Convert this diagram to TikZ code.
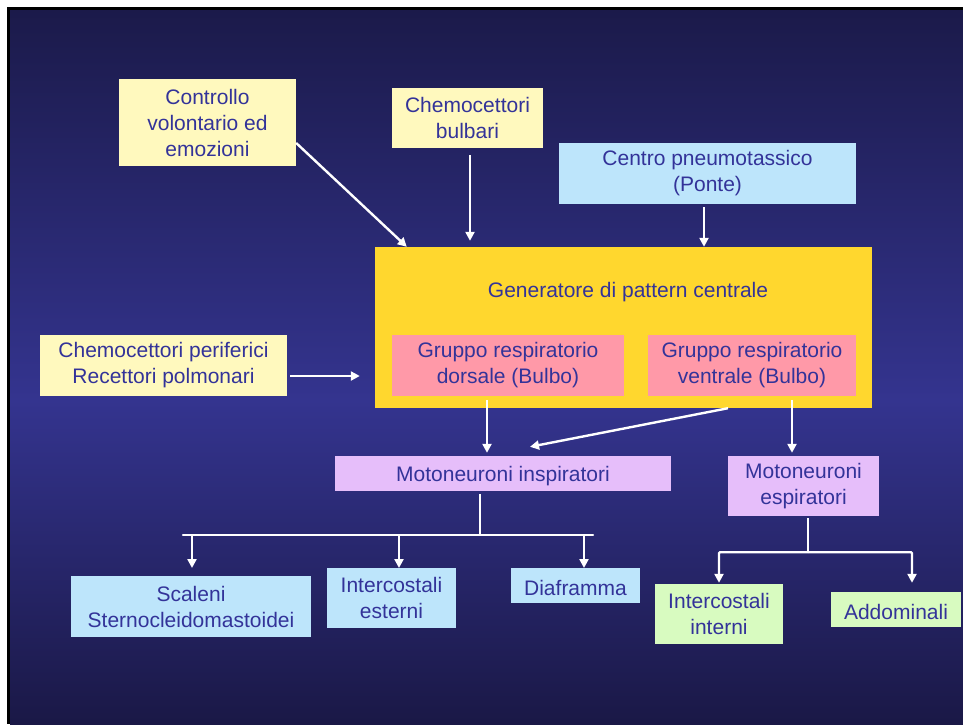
\documentclass[tikz,border=0pt]{standalone}
\usepackage{fontspec}
\setmainfont{Liberation Sans}
\usetikzlibrary{arrows.meta,calc}
\definecolor{txt}{HTML}{333399}
\definecolor{bgtop}{HTML}{1B1A4A}
\definecolor{bgmid}{HTML}{34348F}
\definecolor{bgbot}{HTML}{1A1846}
\definecolor{cyel}{HTML}{FFF9BE}
\definecolor{cblue}{HTML}{BDE5FB}
\definecolor{cgen}{HTML}{FFD72E}
\definecolor{cpink}{HTML}{FF99A8}
\definecolor{clav}{HTML}{E6BEFA}
\definecolor{cgreen}{HTML}{D8FBC0}
\tikzset{
  box/.style={draw=none, inner sep=0pt, align=center, text=txt,
    font=\fontsize{21}{26}\selectfont,
    execute at begin node={\rule{0pt}{19.5pt}}},
  arr/.style={draw=white, line width=2.4pt, -{Triangle[length=9pt,width=9pt]}},
  ln/.style={draw=white, line width=2.4pt}
}
\begin{document}
\begin{tikzpicture}[x=1pt,y=-1pt]
\useasboundingbox (0,0) rectangle (963,724);
\fill[white] (0,0) rectangle (963,724);
\fill[black] (7,7) rectangle (963,724);
\shade[top color=bgtop, bottom color=bgmid] (10,10) rectangle (963,400.5);
\shade[top color=bgmid, bottom color=bgbot] (10,400) rectangle (963,724);

% boxes
\node[box, fill=cyel, minimum width=177pt, minimum height=87pt] (ctrl) at (207.5,122.5) {Controllo\\volontario ed\\emozioni};
\node[box, fill=cyel, minimum width=151pt, minimum height=60pt] (bulb) at (467.5,118) {Chemocettori\\bulbari};
\node[box, fill=cblue, minimum width=297pt, minimum height=61pt] (ponte) at (707.5,173.5) {Centro pneumotassico\\(Ponte)};
\node[box, fill=cgen, minimum width=497pt, minimum height=161pt] (gen) at (623.5,327.5) {};
\node[box, anchor=center] (gent) at (628,290) {Generatore di pattern centrale};
\node[box, fill=cpink, minimum width=232pt, minimum height=61pt] (dors) at (508,365.5) {Gruppo respiratorio\\dorsale (Bulbo)};
\node[box, fill=cpink, minimum width=208pt, minimum height=61pt] (vent) at (752,365.5) {Gruppo respiratorio\\ventrale (Bulbo)};
\node[box, fill=cyel, minimum width=247pt, minimum height=61pt] (peri) at (163.5,365.5) {Chemocettori periferici\\Recettori polmonari};
\node[box, fill=clav, minimum width=336pt, minimum height=35pt] (minsp) at (503,473.5) {Motoneuroni inspiratori};
\node[box, fill=clav, minimum width=151pt, minimum height=60pt] (mesp) at (803.5,486) {Motoneuroni\\espiratori};
\node[box, fill=cblue, minimum width=240pt, minimum height=61pt] (scal) at (191,606.5) {Scaleni\\Sternocleidomastoidei};
\node[box, fill=cblue, minimum width=129pt, minimum height=60pt] (iest) at (391.5,598) {Intercostali\\esterni};
\node[box, fill=cblue, minimum width=129pt, minimum height=35pt] (diaf) at (575.5,585.5) {Diaframma};
\node[box, fill=cgreen, minimum width=128pt, minimum height=60pt] (iint) at (719,614) {Intercostali\\interni};
\node[box, fill=cgreen, minimum width=130pt, minimum height=35pt] (addo) at (896,609.5) {Addominali};

% arrows into generator
\draw[arr] ([yshift=-20.5pt]ctrl.east) -- ([xshift=32pt]gen.north west);
\draw[arr] ([xshift=2.5pt,yshift=-7pt]bulb.south) -- ([xshift=2.5pt,yshift=6pt]bulb.south |- gen.north);
\draw[arr] ([xshift=-3.5pt,yshift=-3pt]ponte.south) -- ([xshift=-3.5pt]ponte.south |- gen.north);
\draw[arr] ([xshift=3pt,yshift=-10.5pt]peri.east) -- ([xshift=-15pt,yshift=-10.5pt]peri.east -| gen.west);

% generator to motoneurons
\draw[arr] ([xshift=-21pt,yshift=-4pt]dors.south) -- ([xshift=-21pt,yshift=3pt]dors.south |- minsp.north);
\draw[arr] ([xshift=104.5pt]gen.south) -- ([xshift=27pt,yshift=9pt]minsp.north);
\draw[arr] ([xshift=40pt,yshift=-4pt]vent.south) -- ([xshift=40pt,yshift=3pt]vent.south |- mesp.north);

% inspiratory tree
\coordinate (ti) at ([xshift=-23pt,yshift=-3pt]minsp.south);
\coordinate (hi) at ($(ti)+(0,41)$);
\coordinate (hl) at (183,535);
\coordinate (hr) at (593,535);
\draw[ln] (ti) -- (hi);
\draw[ln, line cap=round] (hl) -- (hr);
\draw[arr] (192,535) -- (192,568);
\draw[arr] (399,535) -- (399,568);
\draw[arr] (584,535) -- (584,568);

% expiratory tree
\coordinate (te) at ([xshift=4.5pt,yshift=-2pt]mesp.south);
\coordinate (he) at ($(te)+(0,34)$);
\draw[ln] (te) -- (he);
\draw[arr, rounded corners=1pt] (he) -| ([yshift=1pt]iint.north);
\draw[arr, rounded corners=1pt] (he) -| ([xshift=16pt,yshift=9pt]addo.north);
\end{tikzpicture}
\end{document}
